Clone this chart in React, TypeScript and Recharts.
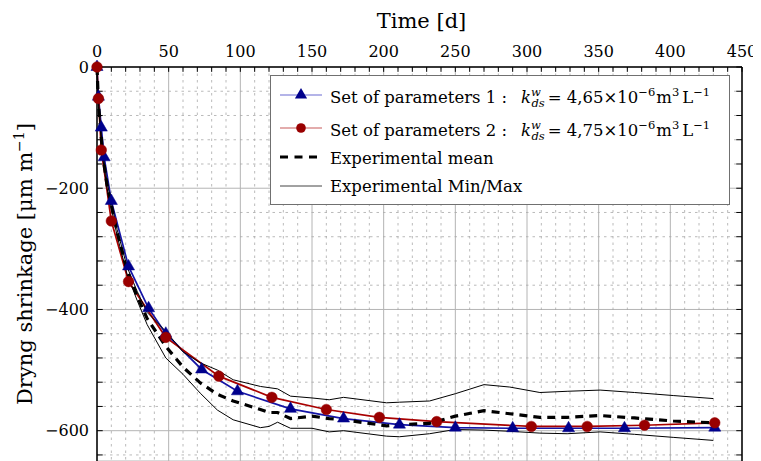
import React from 'react';
import { LineChart, Line, XAxis, YAxis, CartesianGrid, ReferenceLine, Legend, Label } from 'recharts';

const FONT = 'DejaVu Serif';

// Axis ticks
const xTicks = [0, 50, 100, 150, 200, 250, 300, 350, 400, 450];
const yTicks = [0, -200, -400, -600];
const xMinorTicks = [10, 20, 30, 40, 60, 70, 80, 90, 110, 120, 130, 140, 160, 170, 180, 190, 210, 220, 230, 240, 260, 270, 280, 290, 310, 320, 330, 340, 360, 370, 380, 390, 410, 420, 430, 440];
const yMinorTicks = [-40, -80, -120, -160, -240, -280, -320, -360, -440, -480, -520, -560, -640];
const xAllTicks = [0, ...xMinorTicks, ...xTicks.slice(1)];
const yAllTicks = [...yTicks, ...yMinorTicks];

// Set of parameters 1 (blue, triangles)
const set1Time = [0, 1, 3, 5, 10, 22, 36, 48, 73, 98, 135, 172, 211, 250, 290, 329, 368, 431];
const set1Shrinkage = [0, -49, -100, -149, -221, -329, -398, -440, -499, -535, -564, -580, -590, -595, -596, -596, -596, -595];

// Set of parameters 2 (red, circles)
const set2Time = [0, 1, 3, 10, 22, 48, 85, 122, 160, 197, 237, 303, 342, 382, 431];
const set2Shrinkage = [0, -52, -137, -254, -354, -446, -510, -545, -565, -578, -585, -593, -593, -591, -587];

// Experimental
const expTime = [0, 1, 4, 7, 14, 21, 28, 35, 48, 60, 72, 84, 95, 114, 120, 126, 135, 150, 162, 172, 202, 211, 232, 250, 270, 288, 309, 328, 351, 375, 402, 430];
const expMean = [0, -60, -145, -195, -272, -335, -378, -415, -461, -495, -521, -540, -551, -565, -570, -570, -580, -576, -580, -582, -592, -590, -588, -576, -567, -572, -578, -578, -575, -579, -584, -587];
const expMax = [0, -55, -140, -190, -268, -330, -370, -405, -436, -470, -488, -500, -516, -527, -529, -531, -543, -546, -549, -545, -554, -553, -551, -539, -524, -528, -537, -535, -533, -537, -542, -547];
const expMin = [0, -65, -150, -200, -278, -342, -385, -425, -480, -507, -538, -566, -582, -595, -593, -586, -596, -596, -602, -600, -609, -610, -605, -598, -599, -601, -604, -605, -602, -606, -611, -616];

const set1Data = set1Time.map((t, i) => ({ t, v: set1Shrinkage[i] }));
const set2Data = set2Time.map((t, i) => ({ t, v: set2Shrinkage[i] }));
const expData = expTime.map((t, i) => ({ t, mean: expMean[i], min: expMin[i], max: expMax[i] }));

const BLUE_LINE = '#1414a6';
const BLUE_MARK = '#00008c';
const RED_LINE = '#a80000';
const RED_MARK = '#990000';

const fmt = (v: number) => (v < 0 ? '\u2212' + Math.abs(v) : String(v));

const renderTriangle = (props: any) => {
  const { cx, cy, index } = props;
  if (cx == null || cy == null) return <g key={'t' + index} />;
  const r = 7;
  const pts = `${cx},${cy - r} ${cx - r * 0.866},${cy + r / 2} ${cx + r * 0.866},${cy + r / 2}`;
  return <polygon key={'t' + index} points={pts} fill={BLUE_MARK} stroke={BLUE_MARK} strokeWidth={0.5} />;
};

const renderCircle = (props: any) => {
  const { cx, cy, index } = props;
  if (cx == null || cy == null) return <g key={'c' + index} />;
  return <circle key={'c' + index} cx={cx} cy={cy} r={5.3} fill={RED_MARK} stroke={RED_MARK} strokeWidth={0.5} />;
};

const LegendMathRow = ({ y, idx, value }: { y: number; idx: string; value: string }) => (
  <text x={60} y={y} fontSize={16.5} fontFamily={FONT} fill="#000">
    <tspan>{'Set of parameters ' + idx + ' :'}</tspan>
    <tspan fontStyle="italic" dx={14}>k</tspan>
    <tspan fontStyle="italic" fontSize={11.5} dy={-7}>w</tspan>
    <tspan fontStyle="italic" fontSize={11.5} dx={-9.5} dy={11}>ds</tspan>
    <tspan dy={-4} dx={3}>{'= ' + value + '×10'}</tspan>
    <tspan fontSize={11.5} dy={-7}>−6</tspan>
    <tspan dy={7} dx={1}>m</tspan>
    <tspan fontSize={11.5} dy={-7}>3</tspan>
    <tspan dy={7} dx={3}>L</tspan>
    <tspan fontSize={11.5} dy={-7}>−1</tspan>
  </text>
);

const LegendBox = () => (
  <svg width={460} height={130} style={{ display: 'block' }}>
    <rect x={0.5} y={0.5} width={459} height={129} fill="#ffffff" stroke="#707070" strokeWidth={1} />
    <line x1={10} x2={52} y1={20} y2={20} stroke="#6a6ad2" strokeWidth={1.2} />
    <polygon points={`31,13 24.9,23.5 37.1,23.5`} fill={BLUE_MARK} />
    <LegendMathRow y={28} idx="1" value="4,65" />
    <line x1={10} x2={52} y1={53} y2={53} stroke="#c85a5a" strokeWidth={1.2} />
    <circle cx={31} cy={53} r={4.8} fill={RED_MARK} />
    <LegendMathRow y={61} idx="2" value="4,75" />
    <line x1={10} x2={52} y1={82} y2={82} stroke="#000" strokeWidth={3.2} strokeDasharray="8 6.5" />
    <text x={60} y={88.5} fontSize={16.5} fontFamily={FONT} fill="#000">Experimental mean</text>
    <line x1={10} x2={52} y1={111} y2={111} stroke="#444" strokeWidth={1} />
    <text x={60} y={117} fontSize={16.5} fontFamily={FONT} fill="#000">Experimental Min/Max</text>
  </svg>
);

const XTitle = (props: any) => {
  const vb = props.viewBox || {};
  const cx = (vb.x || 0) + (vb.width || 0) / 2 + 2;
  return (
    <text x={cx} y={20} textAnchor="middle" fontSize={21} fontFamily={FONT} fill="#000">
      Time [d]
    </text>
  );
};

const YTitle = (props: any) => {
  const vb = props.viewBox || {};
  const cy = (vb.y || 0) + (vb.height || 0) / 2;
  const x = 24;
  return (
    <text x={x} y={cy} transform={`rotate(-90, ${x}, ${cy})`} textAnchor="middle" fontSize={21} fontFamily={FONT} fill="#000">
      <tspan>{'Dryng shrinkage [μm m'}</tspan>
      <tspan fontSize={14} dy={-8}>−1</tspan>
      <tspan dy={8}>]</tspan>
    </text>
  );
};

export default function App() {
  return (
    <div style={{ width: 753, height: 453, fontFamily: FONT }}>
      <LineChart width={753} height={453} margin={{ top: 29, right: 19, bottom: 0, left: 29 }} style={{ fontFamily: FONT }}>
        <CartesianGrid stroke="#b4b4b4" strokeWidth={1} />
        {xMinorTicks.map((x) => (
          <ReferenceLine key={'mx' + x} x={x} stroke="#a8a8a8" strokeWidth={0.8} strokeDasharray="2.5 4" />
        ))}
        {yMinorTicks.map((y) => (
          <ReferenceLine key={'my' + y} y={y} stroke="#a8a8a8" strokeWidth={0.8} strokeDasharray="2.5 4" />
        ))}
        <XAxis
          type="number"
          dataKey="t"
          orientation="top"
          domain={[0, 450]}
          ticks={xTicks}
          height={30}
          tickLine={false}
          tickSize={6}
          tickMargin={4}
          axisLine={{ stroke: '#000', strokeWidth: 1.5 }}
          tick={{ fontSize: 16, fill: '#000', fontFamily: FONT }}
        >
          <Label content={<XTitle />} />
        </XAxis>
        <YAxis
          type="number"
          domain={[-650, 0]}
          ticks={yTicks}
          width={60}
          tickLine={false}
          tickSize={6}
          tickMargin={2}
          tickFormatter={fmt}
          axisLine={{ stroke: '#000', strokeWidth: 1.5 }}
          tick={{ fontSize: 16, fill: '#000', fontFamily: FONT }}
        >
          <Label content={<YTitle />} />
        </YAxis>
        <ReferenceLine x={450} stroke="#000" strokeWidth={1.5} ifOverflow="visible" />
        {xAllTicks.map((x) => (
          <ReferenceLine key={'tx' + x} segment={[{ x, y: 0 }, { x, y: -8 }]} stroke="#000" strokeWidth={1} ifOverflow="visible" />
        ))}
        {yAllTicks.map((y) => (
          <ReferenceLine key={'ty' + y} segment={[{ x: 0, y }, { x: 4, y }]} stroke="#000" strokeWidth={1} ifOverflow="visible" />
        ))}
        {yAllTicks.map((y) => (
          <ReferenceLine key={'tr' + y} segment={[{ x: 446, y }, { x: 450, y }]} stroke="#000" strokeWidth={1} ifOverflow="visible" />
        ))}
        <Line data={set1Data} dataKey="v" stroke={BLUE_LINE} strokeWidth={1.7} dot={renderTriangle} activeDot={false} isAnimationActive={false} legendType="none" />
        <Line data={set2Data} dataKey="v" stroke={RED_LINE} strokeWidth={1.7} dot={renderCircle} activeDot={false} isAnimationActive={false} legendType="none" />
        <Line data={expData} dataKey="mean" stroke="#000" strokeWidth={3.2} strokeDasharray="8 6" dot={false} activeDot={false} isAnimationActive={false} legendType="none" />
        <Line data={expData} dataKey="max" stroke="#000" strokeWidth={1} dot={false} activeDot={false} isAnimationActive={false} legendType="none" />
        <Line data={expData} dataKey="min" stroke="#000" strokeWidth={1} dot={false} activeDot={false} isAnimationActive={false} legendType="none" />
        <Legend
          layout="horizontal"
          verticalAlign="middle"
          align="center"
          content={() => <LegendBox />}
          wrapperStyle={{ position: 'absolute', left: 262, top: 67, width: 460, height: 130 }}
        />
      </LineChart>
    </div>
  );
}
